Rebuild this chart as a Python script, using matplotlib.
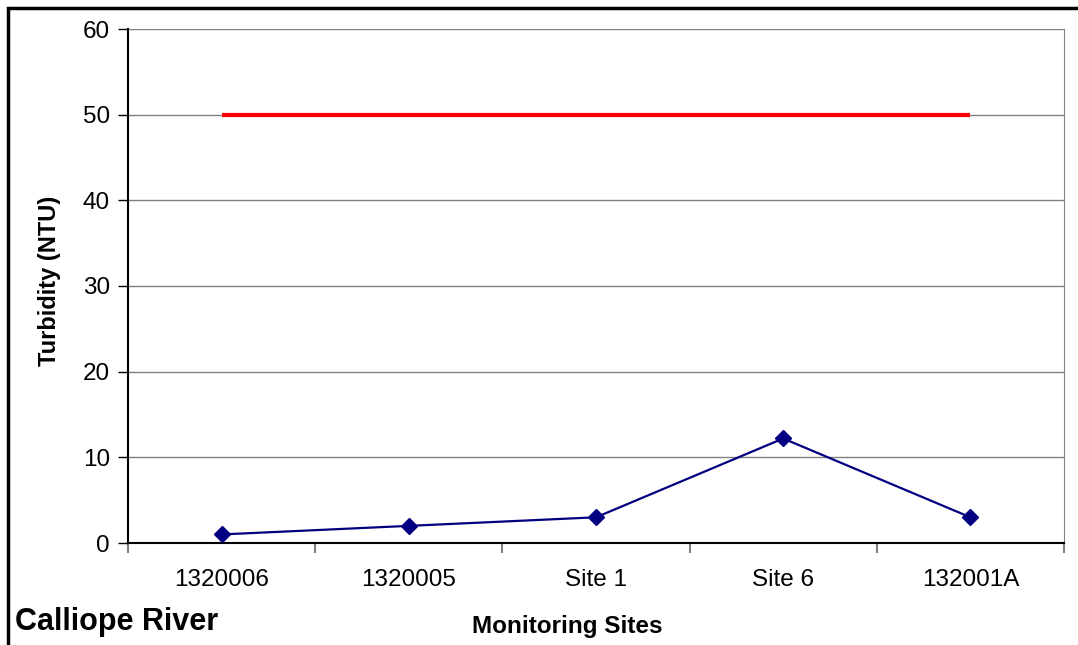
import matplotlib.pyplot as plt
from matplotlib.patches import Rectangle

plt.rcParams['font.family'] = ['Liberation Sans', 'DejaVu Sans']

# Turbidity at each monitoring site
sites = ['1320006', '1320005', 'Site 1', 'Site 6', '132001A']
turbidity = [1.0, 2.0, 3.0, 12.2, 3.0]
guideline = [50, 50, 50, 50, 50]

fig = plt.figure(figsize=(10.78, 6.45), dpi=100)
ax = fig.add_axes([128 / 1078, 1 - 543 / 645, (1064 - 128) / 1078, (543 - 29) / 645])

x = list(range(len(sites)))
ax.plot(x, guideline, color='#ff0000', lw=3, solid_capstyle='butt', zorder=3)
ax.plot(x, turbidity, color='#000080', lw=1.6, marker='D', ms=8, zorder=4)

ax.set_xlim(-0.5, len(sites) - 0.5)
ax.set_ylim(0, 60)
ax.set_yticks(range(0, 61, 10))
ax.grid(axis='y', color='#808080', lw=1)
ax.set_axisbelow(True)

# category ticks sit between the sites
ax.set_xticks([i - 0.5 for i in range(len(sites) + 1)])
ax.set_xticklabels([])
ax.set_xticks(x, minor=True)
ax.set_xticklabels(sites, minor=True)
ax.tick_params(axis='x', which='major', length=7, color='#808080', width=1.5)
ax.tick_params(axis='x', which='minor', length=0, pad=19, labelsize=17.5)
ax.tick_params(axis='y', length=7, width=1, labelsize=17.5, pad=6)

for side in ['left', 'bottom']:
    ax.spines[side].set_color('black')
    ax.spines[side].set_linewidth(1.5)
ax.spines['right'].set_color('#808080')
ax.spines['top'].set_visible(False)

ax.set_ylabel('Turbidity (NTU)', fontsize=17, fontweight='bold')
ax.yaxis.set_label_coords(-0.072, 0.51)
fig.text(567 / 1078, 1 - 627 / 645, 'Monitoring Sites', fontsize=17.5,
         fontweight='bold', ha='center', va='center')
fig.text(15 / 1078, 1 - 622 / 645, 'Calliope River', fontsize=22,
         fontweight='bold', ha='left', va='center')

# outer chart frame
fig.patches.append(Rectangle((8 / 1078, -0.1), 1.2, 1.1 - 8 / 645,
                             transform=fig.transFigure, fill=False,
                             edgecolor='black', lw=2.5))

fig.savefig('out.png', dpi=100)
